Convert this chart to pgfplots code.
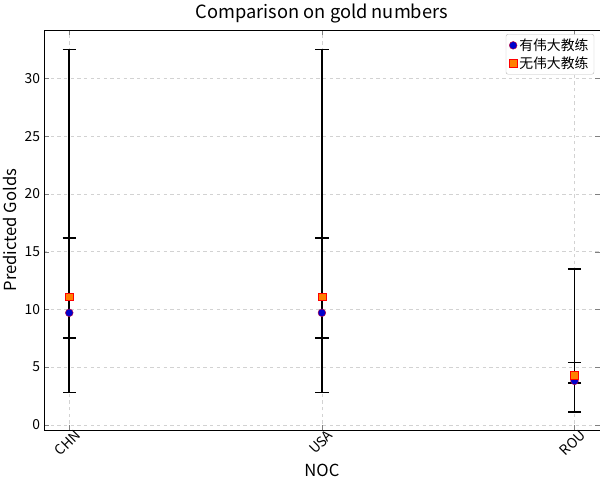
\documentclass[border=0pt]{standalone}
\usepackage{pgfplots}
\pgfplotsset{compat=1.18}
\usepackage{fontspec}
\setmainfont{Noto Sans CJK SC}
\begin{document}
\begin{tikzpicture}
\begin{axis}[
  width=500bp, height=360bp, scale only axis,
  xmin=-0.1, xmax=2.1, ymin=-0.47, ymax=34.2,
  xtick={0,1,2}, xticklabels={CHN,USA,ROU},
  x tick label style={rotate=45, anchor=north east, inner sep=2pt, xshift=6pt},
  ytick={0,5,...,30},
  /pgf/number format/assume math mode=true,
  tick label style={font=\fontsize{12.5}{14}\selectfont},
  grid=major, grid style={dashed, gray!35},
  xlabel={NOC}, ylabel={Predicted Golds},
  label style={font=\fontsize{15}{17}\selectfont},
  title={Comparison on gold numbers},
  title style={font=\fontsize{16.5}{19}\selectfont, yshift=-3pt},
  legend style={at={(0.99,0.99)}, anchor=north east, font=\fontsize{12.5}{15}\selectfont, draw=gray!50, rounded corners=2pt},
  legend cell align=left,
  /pgfplots/error bars/error bar style={black, line width=1.4pt},
  /pgfplots/error bars/error mark options={rotate=90, mark size=6pt, black, line width=1.4pt},
]
\addplot[only marks, mark=*, mark size=3.5pt, mark options={fill=blue!80!black, draw=purple},
  error bars/.cd, y dir=both, y explicit]
  coordinates {(0,9.7) -= (0,6.9) += (0,6.5) (1,9.7) -= (0,6.9) += (0,6.5) (2,3.8) -= (0,2.7) += (0,1.6)};
\addlegendentry{有伟大教练}
\addplot[only marks, mark=square*, mark size=3.5pt, mark options={fill=orange, draw=red},
  error bars/.cd, y dir=both, y explicit]
  coordinates {(0,11.1) -= (0,3.6) += (0,21.4) (1,11.1) -= (0,3.6) += (0,21.4) (2,4.3) -= (0,0.7) += (0,9.2)};
\addlegendentry{无伟大教练}
\end{axis}
\end{tikzpicture}
\end{document}
